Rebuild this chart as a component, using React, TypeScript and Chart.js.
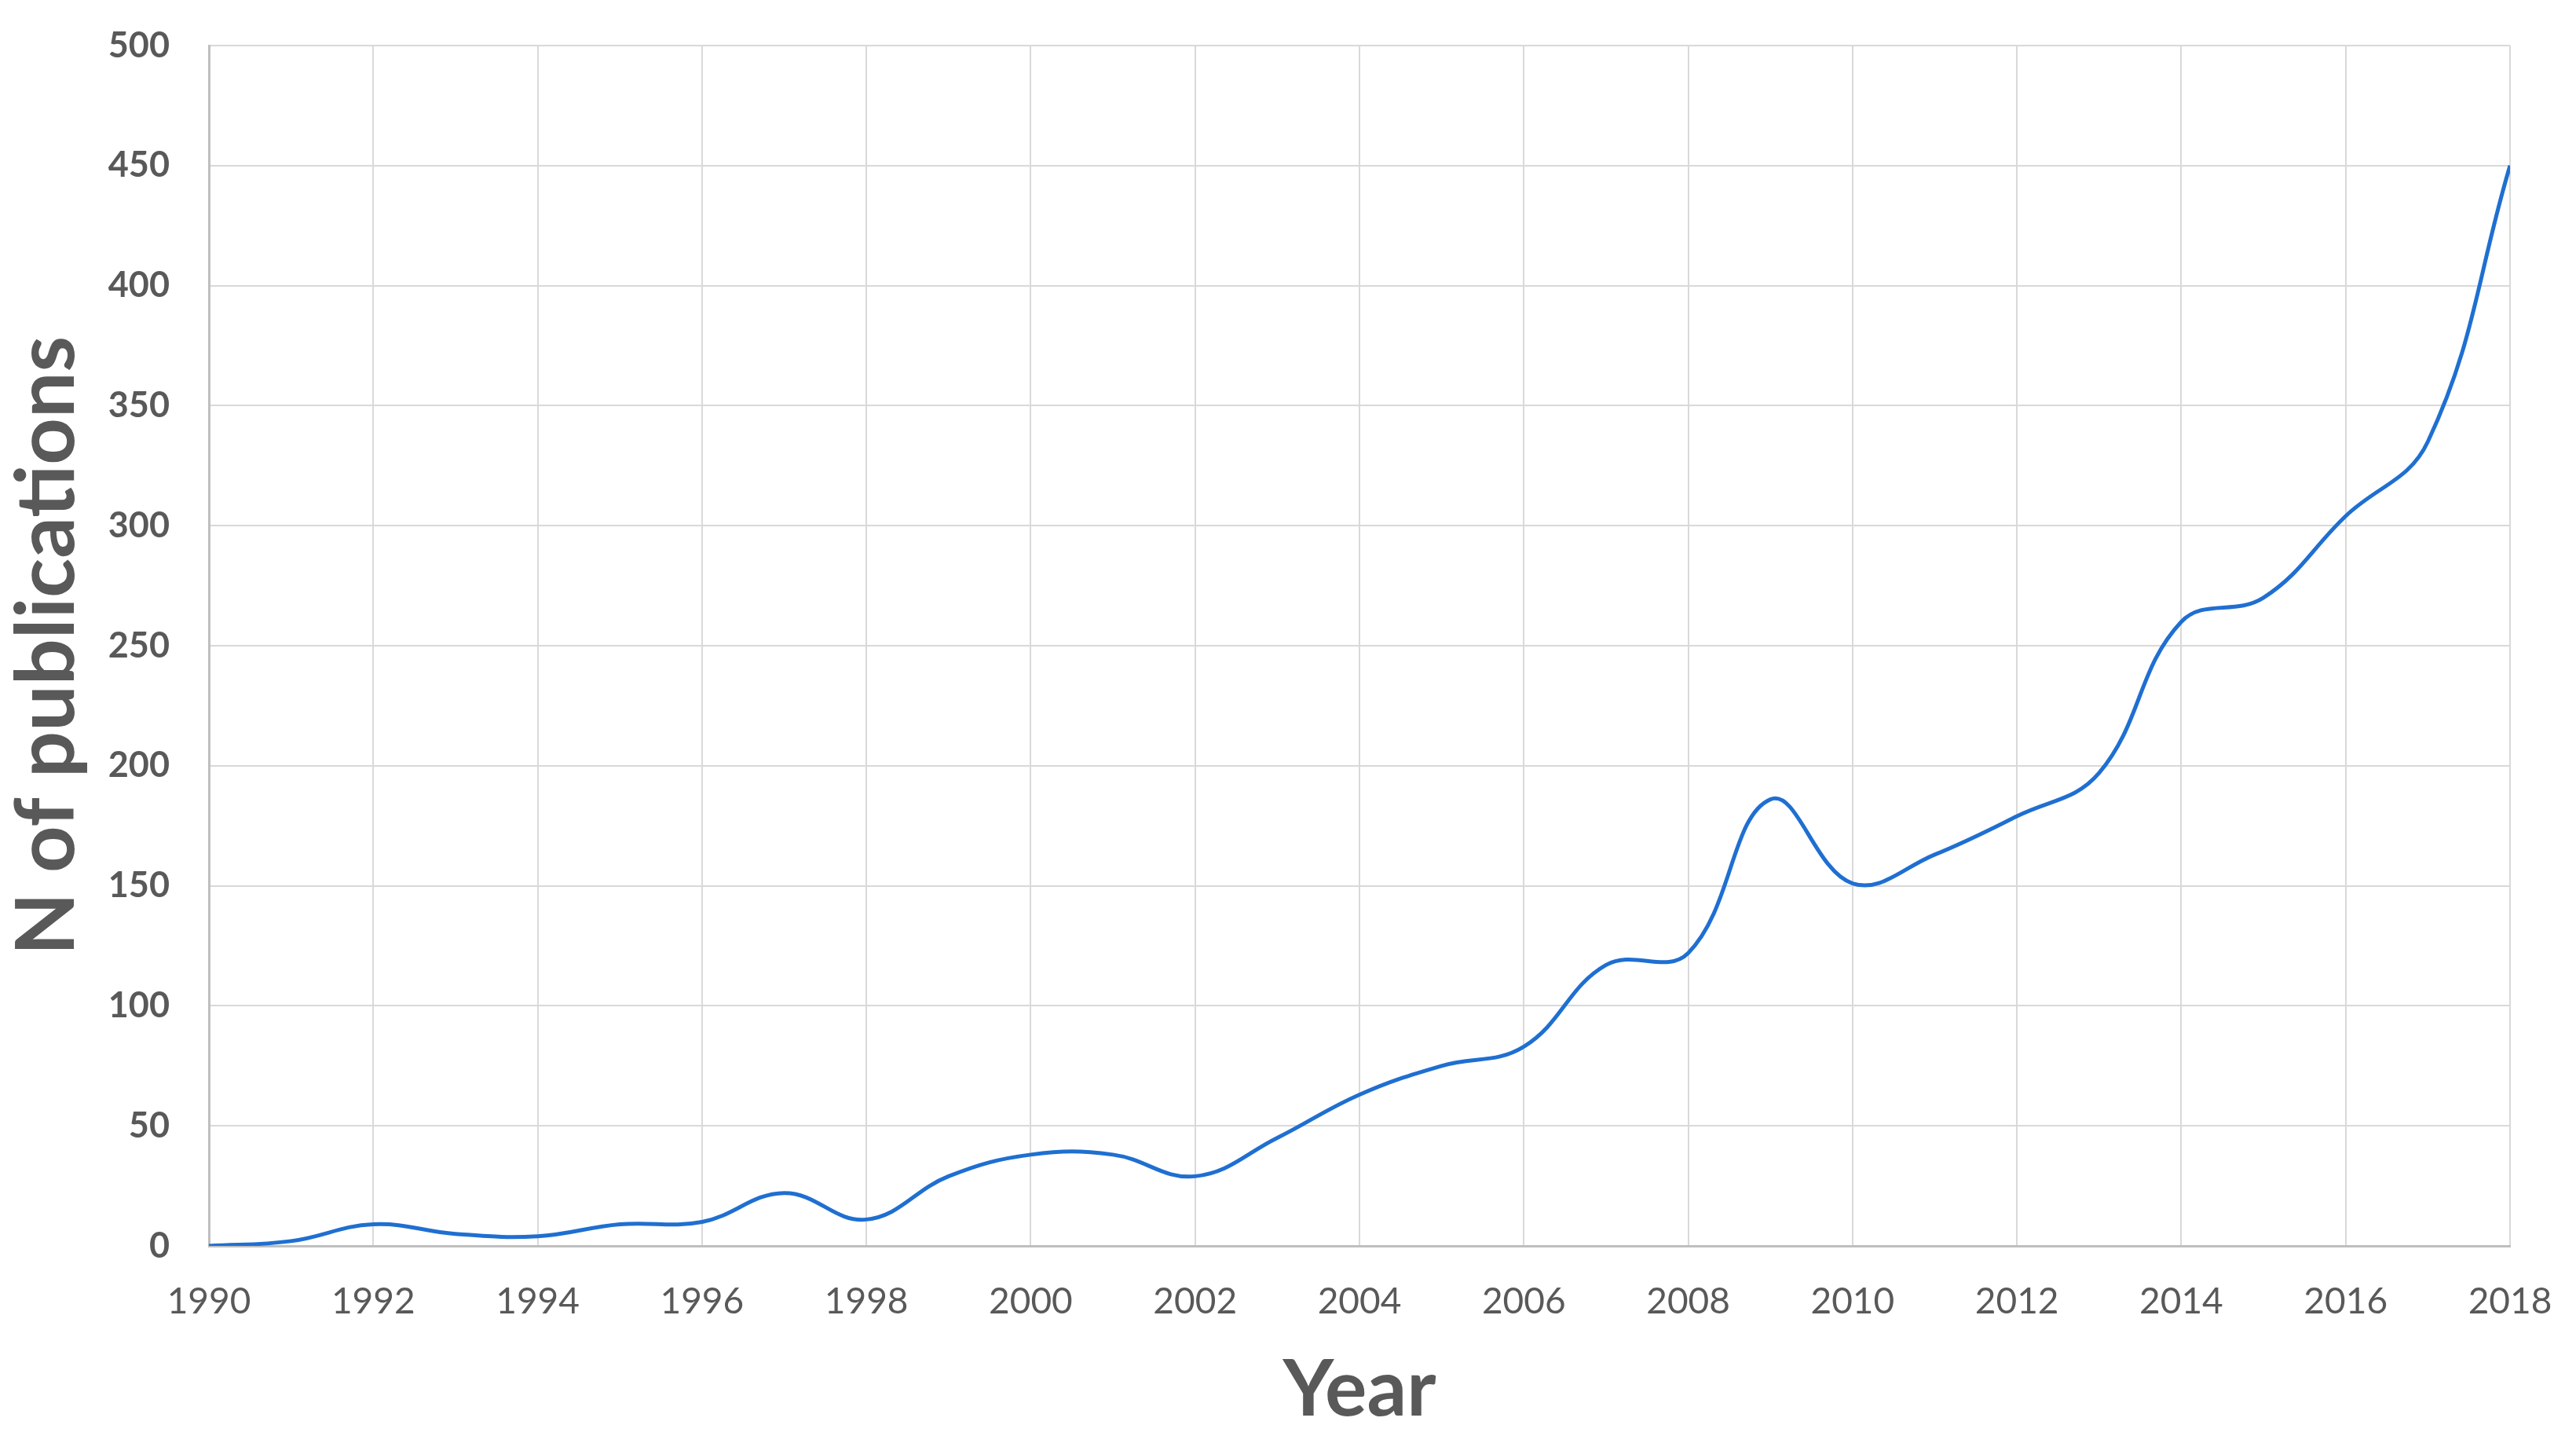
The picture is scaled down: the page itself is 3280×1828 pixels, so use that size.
import React, { useEffect, useRef } from "react";
import { Chart, registerables } from "chart.js";

Chart.register(...registerables);

const years: number[] = [
  1990, 1991, 1992, 1993, 1994, 1995, 1996, 1997, 1998, 1999, 2000, 2001, 2002, 2003, 2004,
  2005, 2006, 2007, 2008, 2009, 2010, 2011, 2012, 2013, 2014, 2015, 2016, 2017, 2018,
];
const publications: number[] = [
  0, 2, 9, 5, 4, 9, 10, 22, 11, 29, 38, 38, 29, 45, 63,
  75, 83, 117, 122, 186, 151, 163, 179, 197, 260, 270, 304, 335, 450,
];

const xTitle = "Year";
const yTitle = "N of publications";
const textColor = "#595959";
const lineColor = "#1F6FD1";

const zeroPad = (scale: any) => {
  scale.paddingTop = 0;
  scale.paddingBottom = 0;
  scale.paddingLeft = 0;
  scale.paddingRight = 0;
};

export default function App() {
  const ref = useRef<HTMLCanvasElement | null>(null);

  useEffect(() => {
    if (!ref.current) return;
    const chart = new Chart(ref.current, {
      type: "line",
      data: {
        datasets: [
          {
            label: yTitle,
            data: years.map((y, i) => ({ x: y, y: publications[i] })),
            borderColor: lineColor,
            backgroundColor: lineColor,
            borderWidth: 5,
            pointRadius: 0,
            tension: 0.4,
            fill: false,
          },
        ],
      },
      options: {
        responsive: false,
        maintainAspectRatio: false,
        animation: false,
        layout: { padding: { top: 50, right: 76, bottom: 0, left: 0 } },
        plugins: { legend: { display: false }, tooltip: { enabled: false } },
        scales: {
          x: {
            type: "linear",
            min: 1990,
            max: 2018,
            afterFit: (scale: any) => {
              scale.height = 234;
              zeroPad(scale);
            },
            ticks: {
              stepSize: 2,
              color: textColor,
              padding: 44,
              font: { family: "Lato", size: 46 },
              callback: (v: any) => String(v),
              maxRotation: 0,
            },
            grid: { color: "#D9D9D9", lineWidth: 2, drawTicks: false },
            border: { color: "#BFBFBF", width: 3 },
            title: {
              display: true,
              text: xTitle,
              color: textColor,
              font: { family: "Lato", size: 100, weight: "bold", lineHeight: 1 },
              padding: { top: 0, bottom: 0 },
            },
          },
          y: {
            min: 0,
            max: 500,
            afterFit: (scale: any) => {
              scale.width = 258;
              zeroPad(scale);
            },
            ticks: {
              stepSize: 50,
              color: textColor,
              padding: 50,
              font: { family: "Lato", size: 45, weight: "bold" },
            },
            grid: { color: "#D9D9D9", lineWidth: 2, drawTicks: false },
            border: { color: "#BFBFBF", width: 3 },
            title: {
              display: true,
              text: yTitle,
              color: textColor,
              font: { family: "Lato", size: 104, weight: "bold", lineHeight: 1 },
              padding: { top: 0, bottom: 0 },
            },
          },
        },
      },
    });
    return () => chart.destroy();
  }, []);

  return (
    <div style={{ width: 3264, height: 1812, background: "#ffffff" }}>
      <canvas ref={ref} width={3264} height={1812} style={{ width: 3264, height: 1812, display: "block" }} />
    </div>
  );
}
